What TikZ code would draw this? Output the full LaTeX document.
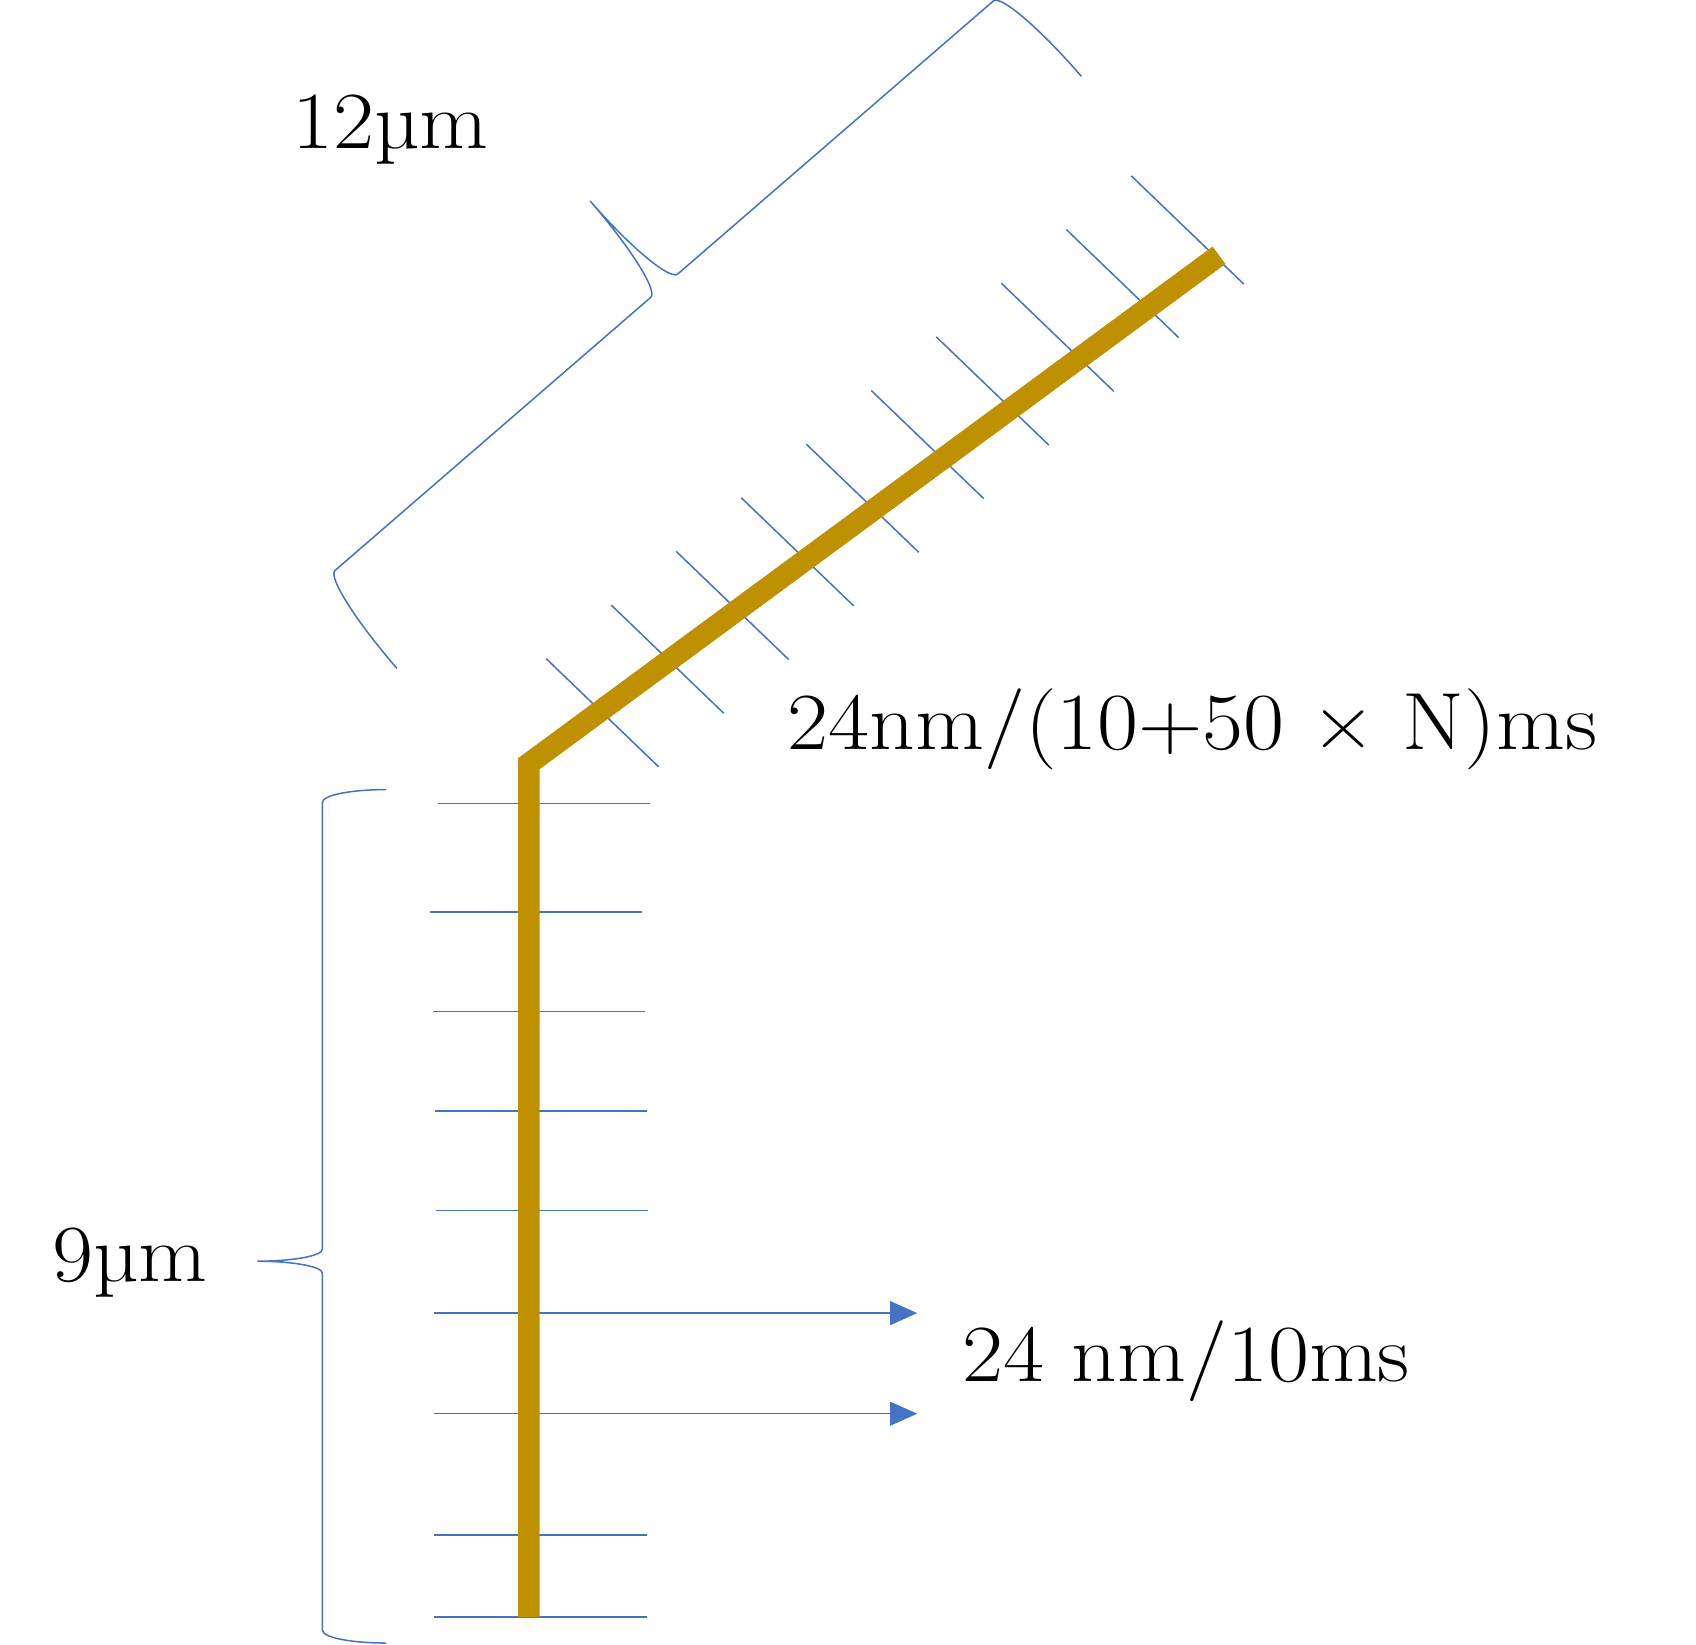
\documentclass[tikz,border=0pt]{standalone}
\usepackage{fontspec}
\setmainfont{Latin Modern Roman}[FakeStretch=1.1]
\usepackage{tikz}
\usetikzlibrary{arrows.meta}
\definecolor{rodgold}{RGB}{191,144,0}
\definecolor{tickblue}{RGB}{68,114,196}

\begin{document}
\begin{tikzpicture}[x=1pt,y=-1pt,>={Triangle[length=25pt,width=22pt]},
  font=\fontsize{75}{90}\selectfont,
  rod/.style={rodgold,line width=20pt,miter limit=4},
  bluetick/.style={tickblue,line width=1.4pt},
  lbl/.style={inner sep=0pt,anchor=base west}]
  \useasboundingbox (0,0) rectangle (1568,1520);
  % rod: stem and branch
  \coordinate (stembot) at (489,1495);
  \coordinate (bend) at (489,706);
  \coordinate (rodtip) at (1127,236);
  % ticks across the stem
  \foreach \y/\xa/\xb in {743/405/601,843/398/594,935/400/596,1027/402/598,
      1119/403/599,1419/401/598,1495/401/598}
    \draw[bluetick] (\xa,\y) -- (\xb,\y);
  \foreach \y [count=\i] in {1214,1307} {
    \coordinate (arrs\i) at (401,\y);
    \coordinate (arre\i) at (848,\y);
    \draw[bluetick,->] (arrs\i) -- (arre\i);
  }
  % ticks across the branch
  \foreach \i in {0,...,9}
    \draw[bluetick] ({505+60.1*\i},{609-49.6*\i}) -- ++(104,100);
  \draw[rod] (stembot) -- (bend) -- (rodtip);
  % brace of the stem
  \draw[bluetick] (357,730) .. controls (325,730) and (298,735) .. (298,742)
    -- (298,1155) .. controls (298,1161) and (271,1166) .. (238,1166)
    .. controls (271,1166) and (298,1171) .. (298,1177)
    -- (298,1507) .. controls (298,1514) and (325,1519) .. (357,1519);
  % brace of the branch
  \begin{scope}[shift={(367,618)},x={(0.756pt,0.654pt)},y={(-0.654pt,0.756pt)}]
    \draw[bluetick] (0,0) .. controls (0,58) and (7,106) .. (16,106)
      -- (402,106) .. controls (411,106) and (418,153) .. (418,210)
      .. controls (418,153) and (426,106) .. (435,106)
      -- (821,106) .. controls (830,106) and (837,58) .. (837,0);
  \end{scope}
  \node[lbl] (lenbranch) at (270,137) {12µm};
  \node[lbl] (lenstem) at (48,1185) {9µm};
  \node[lbl] (speedbranch) at (728,693) {24nm/(10+50 × N)ms};
  \node[lbl] (speedstem) at (890,1277) {24 nm/10ms};
\end{tikzpicture}
\end{document}
